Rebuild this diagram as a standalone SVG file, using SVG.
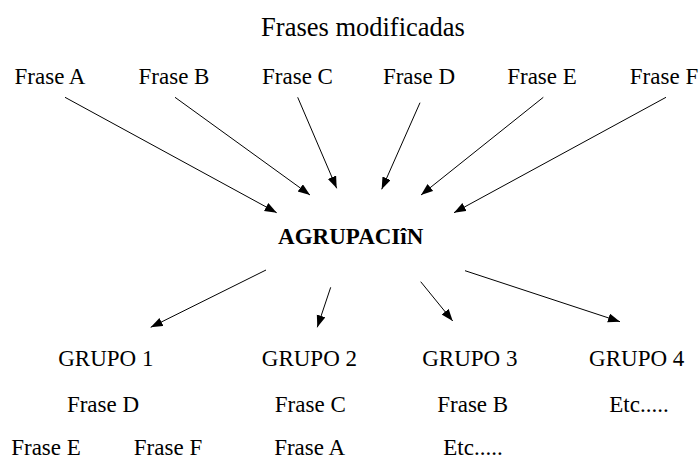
<svg xmlns="http://www.w3.org/2000/svg" width="699" height="460" viewBox="0 0 699 460">
<style>
  text { font-family: "Liberation Serif", "Times New Roman", serif; fill: #000; text-anchor: middle; }
  .lbl { font-size: 23px; }
  .title { font-size: 26.5px; }
  .hub { font-size: 23px; font-weight: bold; }
  .edge { stroke: #000; stroke-width: 1; fill: none; marker-end: url(#arr); }
</style>
<defs>
  <marker id="arr" markerUnits="userSpaceOnUse" markerWidth="14" markerHeight="10" refX="12" refY="4.5" orient="auto">
    <path d="M0,0 L12,4.5 L0,9 Z" fill="#000"/>
  </marker>
</defs>
<rect width="699" height="460" fill="#fff"/>
<g id="title"><text class="title" x="363" y="36">Frases modificadas</text></g>
<g id="fraseA"><text class="lbl" x="50" y="84">Frase A</text></g>
<g id="fraseB"><text class="lbl" x="174" y="84">Frase B</text></g>
<g id="fraseC"><text class="lbl" x="297.5" y="84">Frase C</text></g>
<g id="fraseD"><text class="lbl" x="419" y="84">Frase D</text></g>
<g id="fraseE"><text class="lbl" x="542" y="84">Frase E</text></g>
<g id="fraseF"><text class="lbl" x="664" y="84">Frase F</text></g>
<g id="agrupacion"><text class="hub" x="350.7" y="244">AGRUPACIîN</text></g>
<g id="grupo1"><text class="lbl" x="105.8" y="366">GRUPO 1</text><text class="lbl" x="103" y="412">Frase D</text></g>
<g id="grupo2"><text class="lbl" x="309.4" y="366">GRUPO 2</text><text class="lbl" x="310.3" y="412">Frase C</text></g>
<g id="grupo3"><text class="lbl" x="469.8" y="366">GRUPO 3</text><text class="lbl" x="472.7" y="412">Frase B</text></g>
<g id="grupo4"><text class="lbl" x="636.7" y="366">GRUPO 4</text><text class="lbl" x="639" y="412">Etc.....</text></g>
<g id="row3">
  <text class="lbl" x="46" y="455">Frase E</text>
  <text class="lbl" x="168" y="455">Frase F</text>
  <text class="lbl" x="309.6" y="455">Frase A</text>
  <text class="lbl" x="473" y="455">Etc.....</text>
</g>
<g id="connectors">
  <line class="edge" x1="65" y1="97.3" x2="276.7" y2="212.7"/>
  <line class="edge" x1="175" y1="97.3" x2="310" y2="195"/>
  <line class="edge" x1="297.7" y1="97.3" x2="336.7" y2="188.3"/>
  <line class="edge" x1="420" y1="102.7" x2="381.7" y2="189.3"/>
  <line class="edge" x1="543.3" y1="97.3" x2="421" y2="195"/>
  <line class="edge" x1="666" y1="97.3" x2="454" y2="212.7"/>
  <line class="edge" x1="266" y1="270" x2="150.7" y2="327.3"/>
  <line class="edge" x1="330.7" y1="287.3" x2="317.3" y2="327.3"/>
  <line class="edge" x1="420.7" y1="281.7" x2="452.7" y2="321"/>
  <line class="edge" x1="465" y1="270.7" x2="620" y2="321.7"/>
</g>
</svg>
